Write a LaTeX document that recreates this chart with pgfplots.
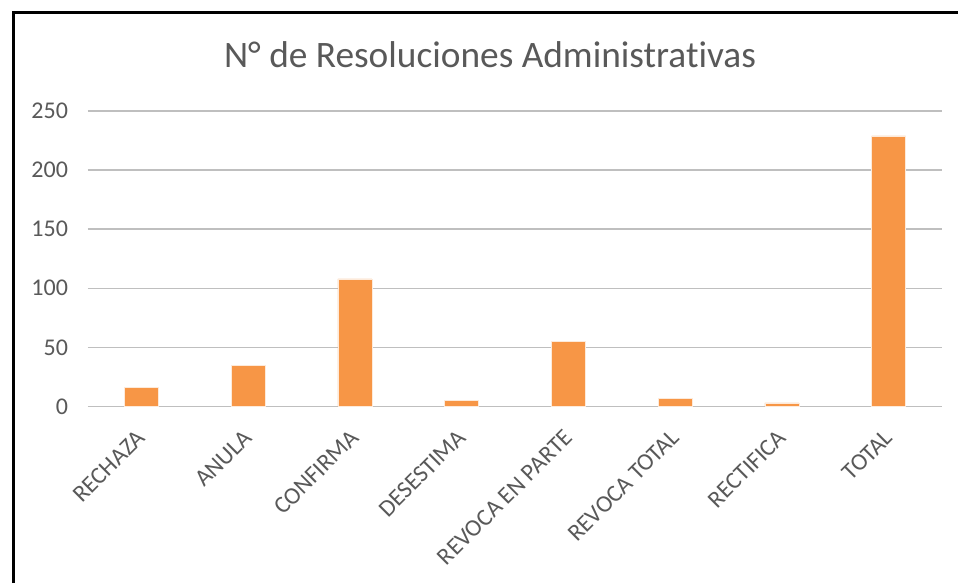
\documentclass[border=0pt]{standalone}
\usepackage{fontspec}
\setmainfont[Ligatures={NoCommon}]{Carlito}
\usepackage{pgfplots}
\pgfplotsset{compat=1.18}
\definecolor{barc}{HTML}{F79646}
\definecolor{txt}{HTML}{595959}
\definecolor{grid}{HTML}{D9D9D9}
\begin{document}
\begin{tikzpicture}[x=1pt,y=1pt]
\useasboundingbox (0,0) rectangle (718.5,437.25);
\fill[white] (0,0) rectangle (718.5,437.25);
\draw[line width=2.2pt] (10,0) -- (10,428) -- (718.5,428);
\node[font=\fontsize{28}{32}\selectfont, text=txt] at (367.5,396) {N° de Resoluciones Administrativas};
\begin{axis}[
  at={(66pt,132.4pt)}, anchor=south west,
  scale only axis, width=640.5pt, height=221.6pt,
  xmin=-0.5, xmax=7.5, ymin=0, ymax=250,
  axis line style={draw=none},
  xmajorgrids=false, ymajorgrids=true, grid style={grid, line width=1.1pt},
  ytick={0,50,100,150,200,250},
  xtick={0,...,7},
  xticklabels={RECHAZA,ANULA,CONFIRMA,DESESTIMA,REVOCA EN PARTE,REVOCA TOTAL,RECTIFICA,TOTAL},
  major tick length=0pt, tick style={draw=none},
  tick label style={font=\fontsize{18}{20}\selectfont, text=txt},
  /pgf/number format/assume math mode=true,
  yticklabel style={anchor=east, xshift=-11.5pt},
  xticklabel style={rotate=45, anchor=east, xshift=-11pt, yshift=-14.5pt},
  ybar, bar width=0.32,
  clip=false,
]
\addplot[fill=barc, draw=white!80!barc, line width=0.4pt] coordinates {
 (0,16) (1,35) (2,108) (3,5) (4,55) (5,7) (6,3) (7,229)};
\end{axis}
\end{tikzpicture}
\end{document}
